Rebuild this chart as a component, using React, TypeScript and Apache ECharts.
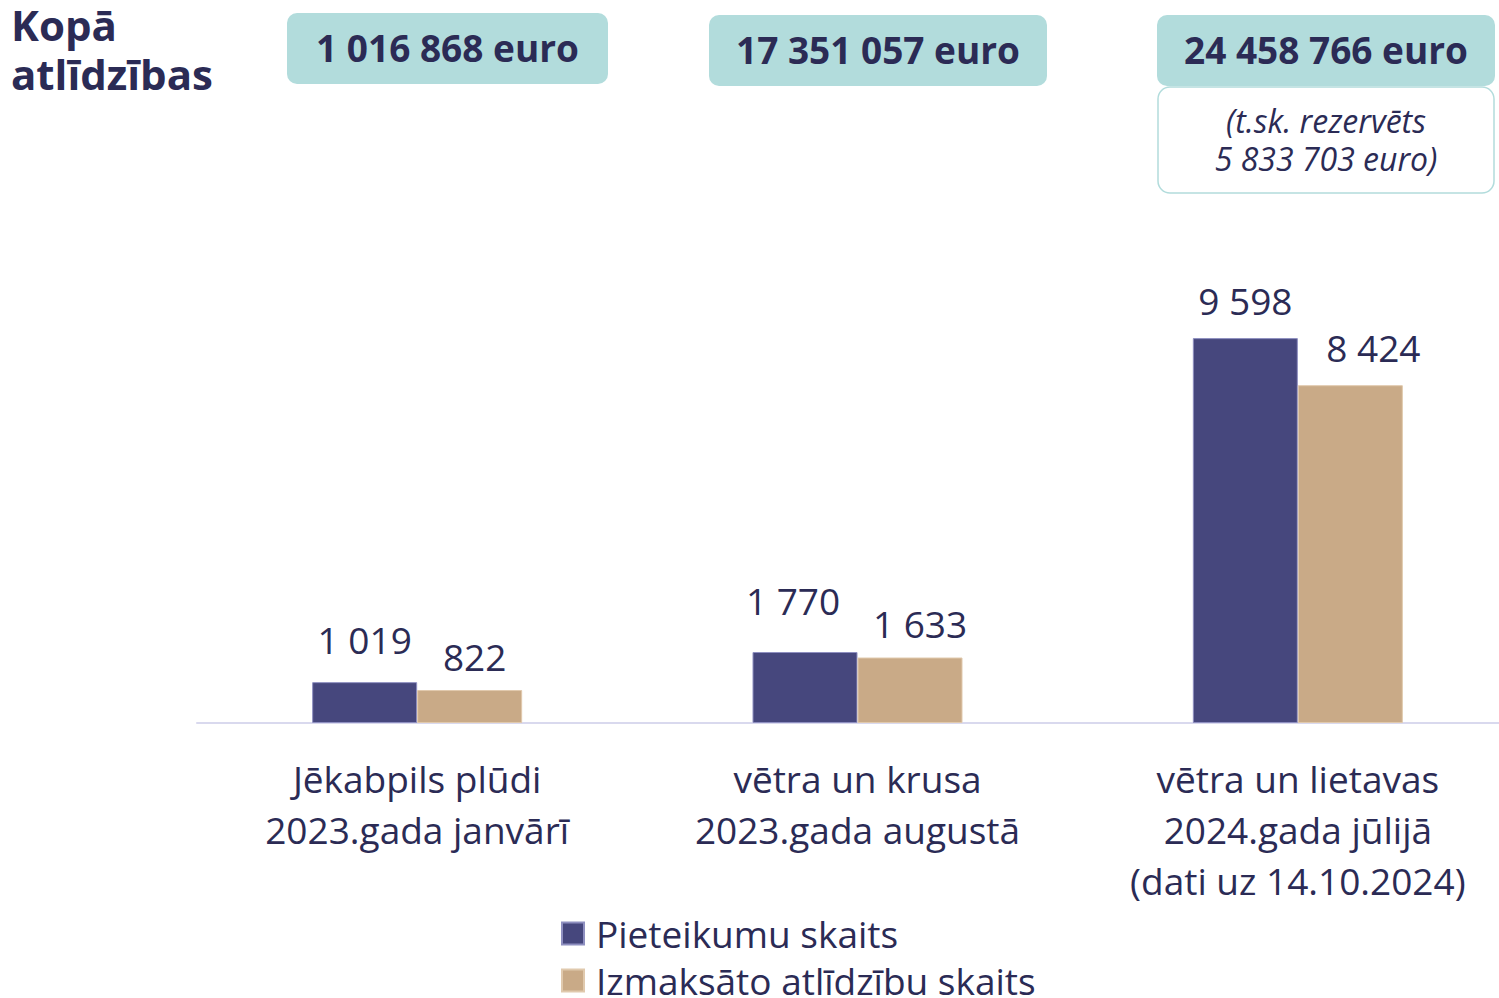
import React, { useEffect, useRef } from "react";
import * as echarts from "echarts";

const categories = [
  "Jēkabpils plūdi\n2023.gada janvārī",
  "vētra un krusa\n2023.gada augustā",
  "vētra un lietavas\n2024.gada jūlijā\n(dati uz 14.10.2024)",
];
const seriesNames = ["Pieteikumu skaits", "Izmaksāto atlīdzību skaits"];
const pieteikumi = [1019, 1770, 9598];
const izmaksatas = [822, 1633, 8424];
const totals = ["1 016 868 euro", "17 351 057 euro", "24 458 766 euro"];
const reserveLines = ["(t.sk. rezervēts", "5 833 703 euro)"];

// small label nudges [dx, dy] as in the reference layout
const nudgeA = [[0, -5], [-12, -14], [0, 0]];
const nudgeB = [[5, 4], [10, 3], [23, 0]];

const TEXT = "#2b2b55";
const NAVY = "#46477d";
const TAN = "#c9aa87";
const TEAL = "#b2dcdc";
const FONT = "'Open Sans', sans-serif";

const fmt = (v: number) => String(v).replace(/\B(?=(\d{3})+(?!\d))/g, " ");

export default function App() {
  const ref = useRef<HTMLDivElement>(null);
  useEffect(() => {
    document.body.style.margin = "0";
    document.body.style.overflow = "hidden";
    document.documentElement.style.overflow = "hidden";
    const chart = echarts.init(ref.current!, null, { renderer: "svg" });
    const boxes = [
      { x: 287, y: 13, w: 321, h: 71 },
      { x: 709, y: 15, w: 338, h: 71 },
      { x: 1157, y: 15, w: 338, h: 71 },
    ];
    const graphic: any[] = [
      {
        type: "text",
        left: 11,
        top: 3,
        style: { text: "Kopā", font: `bold 42px ${FONT}`, fill: TEXT },
      },
      {
        type: "text",
        left: 11,
        top: 52,
        style: { text: "atlīdzības", font: `bold 42px ${FONT}`, fill: TEXT },
      },
      {
        type: "rect",
        shape: { x: 1158, y: 87, width: 336, height: 106, r: 12 },
        style: { fill: "#ffffff", stroke: TEAL, lineWidth: 1.5 },
      },
    ];
    reserveLines.forEach((t, i) => {
      graphic.push({
        type: "text",
        x: 1326,
        y: 120 + i * 38,
        style: {
          text: t,
          font: `italic 32px ${FONT}`,
          fill: TEXT,
          align: "center",
          verticalAlign: "middle",
        },
      });
    });
    boxes.forEach((b, i) => {
      graphic.push({
        type: "rect",
        shape: { x: b.x, y: b.y, width: b.w, height: b.h, r: 10 },
        style: { fill: TEAL },
      });
      graphic.push({
        type: "text",
        x: b.x + b.w / 2,
        y: b.y + b.h / 2 - 1,
        style: {
          text: totals[i],
          font: `bold 37px ${FONT}`,
          fill: TEXT,
          align: "center",
          verticalAlign: "middle",
        },
      });
    });
    const labelCfg = {
      show: true,
      position: "top" as const,
      distance: 19,
      color: TEXT,
      fontSize: 37,
      fontFamily: FONT,
      formatter: (p: any) => fmt(p.value),
    };
    const legendCommon = {
      orient: "vertical",
      left: 561,
      padding: 0,
      itemWidth: 22,
      itemHeight: 22,
      icon: "rect",
      textStyle: {
        color: TEXT,
        fontSize: 37,
        lineHeight: 36,
        fontFamily: FONT,
        padding: [0, 0, 0, 7],
      },
    };
    chart.setOption({
      animation: false,
      textStyle: { fontFamily: FONT },
      grid: { left: 197, right: 0, top: 322, bottom: 275, containLabel: false },
      xAxis: {
        type: "category",
        data: categories,
        axisLine: { show: true, lineStyle: { color: "#d9d9ee", width: 2 } },
        axisTick: { show: false },
        axisLabel: {
          color: TEXT,
          fontSize: 37,
          fontFamily: FONT,
          lineHeight: 51,
          margin: 30,
          interval: 0,
        },
      },
      yAxis: {
        type: "value",
        min: 0,
        max: 10000,
        show: false,
        splitLine: { show: false },
      },
      legend: [
        { ...legendCommon, top: 915, data: [seriesNames[0]] },
        { ...legendCommon, top: 962, data: [seriesNames[1]] },
      ],
      series: [
        {
          name: seriesNames[0],
          type: "bar",
          data: pieteikumi.map((v, i) => ({ value: v, label: { offset: nudgeA[i] } })),
          barWidth: 105,
          barGap: "0%",
          itemStyle: { color: NAVY, borderColor: "#8e8fc0", borderWidth: 1 },
          label: labelCfg,
        },
        {
          name: seriesNames[1],
          type: "bar",
          data: izmaksatas.map((v, i) => ({ value: v, label: { offset: nudgeB[i] } })),
          barWidth: 105,
          barGap: "0%",
          itemStyle: { color: TAN, borderColor: "#e0c9ad", borderWidth: 1 },
          label: labelCfg,
        },
      ],
      graphic,
    });
    return () => chart.dispose();
  }, []);
  return <div ref={ref} style={{ width: 1518, height: 998 }} />;
}
